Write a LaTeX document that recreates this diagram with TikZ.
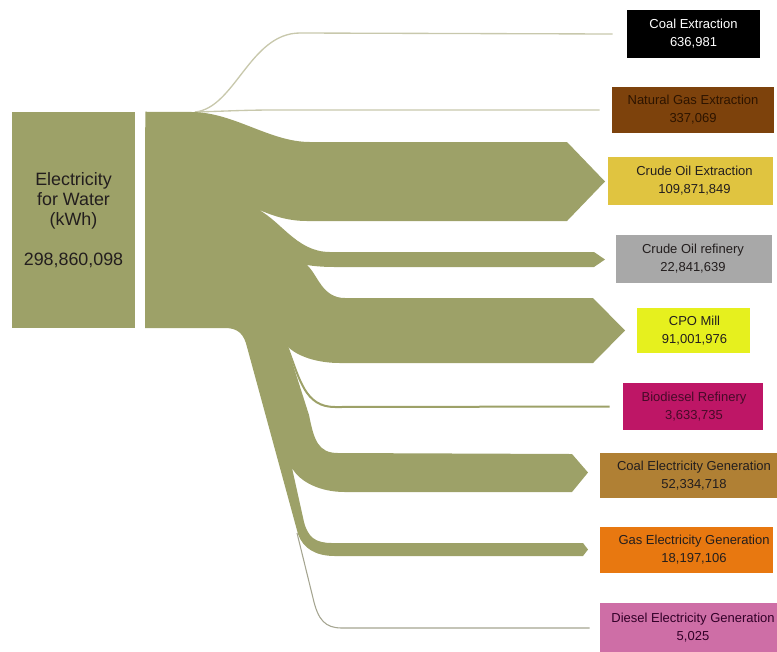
\documentclass[tikz,border=0pt]{standalone}
\usepackage{fontspec}
\setmainfont{Liberation Sans}
\usetikzlibrary{calc}
\definecolor{flowol}{RGB}{157,161,104}
\definecolor{paleline}{RGB}{200,200,172}
\definecolor{dieselline}{RGB}{165,165,145}
\definecolor{boxtext}{RGB}{35,30,30}
\definecolor{cNG}{RGB}{125,66,12}
\definecolor{cCOX}{RGB}{224,196,64}
\definecolor{cCOR}{RGB}{168,168,168}
\definecolor{cCPO}{RGB}{230,240,30}
\definecolor{cBIO}{RGB}{190,22,102}
\definecolor{cCOALE}{RGB}{176,128,52}
\definecolor{cGASE}{RGB}{232,120,16}
\definecolor{cDIES}{RGB}{206,110,166}
\tikzset{
  tgt/.style={fill=#1, inner sep=0pt},
  lbl/.style={inner sep=0pt, align=center, text=boxtext,
    font=\fontsize{9.75}{13.5}\selectfont},
  thinpale/.style={draw=paleline, line width=1pt},
}
\begin{document}
\begin{tikzpicture}[x=0.75pt,y=-0.75pt]
\useasboundingbox (0,0) rectangle (777,651);

% source
\node[fill=flowol, minimum width=92.25pt, minimum height=162pt, inner sep=0pt,
  align=center, text=boxtext, font=\fontsize{13.4}{15}\selectfont]
  (src) at (73.5,220) {Electricity\\for Water\\(kWh)\\[15pt]298,860,098};

% targets (boxes)
\node[tgt=black, minimum width=99.75pt, minimum height=36pt] (coalx) at (693.5,34) {};
\node[tgt=cNG, minimum width=121.5pt, minimum height=34.5pt] (ngx) at (693,110) {};
\node[tgt=cCOX, minimum width=123.75pt, minimum height=36pt] (cox) at (690.5,181) {};
\node[tgt=cCOR, minimum width=117pt, minimum height=36pt] (cor) at (694,259) {};
\node[tgt=cCPO, minimum width=84.75pt, minimum height=33.75pt] (cpo) at (693.5,330.5) {};
\node[tgt=cBIO, minimum width=105pt, minimum height=35.25pt] (bio) at (693,406.5) {};
\node[tgt=cCOALE, minimum width=132.75pt, minimum height=33.75pt] (coale) at (688.5,475.5) {};
\node[tgt=cGASE, minimum width=129.75pt, minimum height=34.5pt] (gase) at (686.5,550) {};
\node[tgt=cDIES, minimum width=132.75pt, minimum height=37.5pt] (dies) at (688.5,628) {};

% target labels
\node[lbl, text=white] (coalxt) at (693.5,34) {Coal Extraction\\636,981};
\node[lbl, text={rgb,255:red,45;green,20;blue,0}] (ngxt) at (693,110) {Natural Gas Extraction\\337,069};
\node[lbl] (coxt) at (694.5,181) {Crude Oil Extraction\\109,871,849};
\node[lbl] (cort) at (693,259) {Crude Oil refinery\\22,841,639};
\node[lbl] (cpot) at (694.5,330.5) {CPO Mill\\91,001,976};
\node[lbl, text={rgb,255:red,70;green,10;blue,40}] (biot) at (694,406.5) {Biodiesel Refinery\\3,633,735};
\node[lbl] (coalet) at (694,475.5) {Coal Electricity Generation\\52,334,718};
\node[lbl] (gaset) at (694,550) {Gas Electricity Generation\\18,197,106};
\node[lbl, text={rgb,255:red,50;green,0;blue,40}] (diest) at (693,628) {Diesel Electricity Generation\\5,025};

% flow start point
\coordinate (fs) at ($(src.north east)+(10,0)$);

% thin flows at the top
\draw[thinpale] (195,112) .. controls (235,108) and (250,33) .. (300,33) -- ($(coalx.west)+(-14,0)$);
\draw[thinpale] (195,112) .. controls (230,111) and (245,110) .. (275,110) -- ($(ngx.west)+(-12,0)$);

% main flow body
\fill[flowol] (fs) -- (193,112)
  .. controls (235,113) and (270,142) .. (310,142)
  -- (567,142) -- (605,181.5) -- (567,221)
  -- (307,221) .. controls (285,221) and (268,214) .. (253,207)
  .. controls (280,218) and (295,252) .. (330,252)
  -- (594,252) -- (605,259.5) -- (594,267)
  -- (335,267) .. controls (322,267) and (313,266) .. (307,265)
  .. controls (318,275) and (322,298) .. (345,298)
  -- (593,298) -- (625,330.5) -- (593,363)
  -- (340,363) .. controls (318,363) and (298,357) .. (287,346)
  -- (309,415) .. controls (314,440) and (318,453) .. (338,453)
  -- (572,454) -- (588,472.5) -- (572,492)
  -- (345,492) .. controls (320,492) and (300,482) .. (292,468)
  -- (304,522) .. controls (308,537) and (315,543) .. (332,543)
  -- (583,543) -- (588,549.5) -- (583,556)
  -- (335,556) .. controls (315,556) and (303,548) .. (298,534)
  -- (247,347) .. controls (244,334) and (238,328) .. (225,328)
  -- (145,328) -- cycle;

% biodiesel thin flow
\draw[flowol, line width=1.5pt] (287,346) .. controls (300,380) and (305,407) .. (335,407) -- ($(bio.west)+(-13,0)$);
% diesel thin flow
\draw[dieselline, line width=0.8pt] (297,533) -- (313,598) .. controls (318,620) and (325,628) .. (342,628) -- ($(dies.west)+(-10,0)$);
\end{tikzpicture}
\end{document}
